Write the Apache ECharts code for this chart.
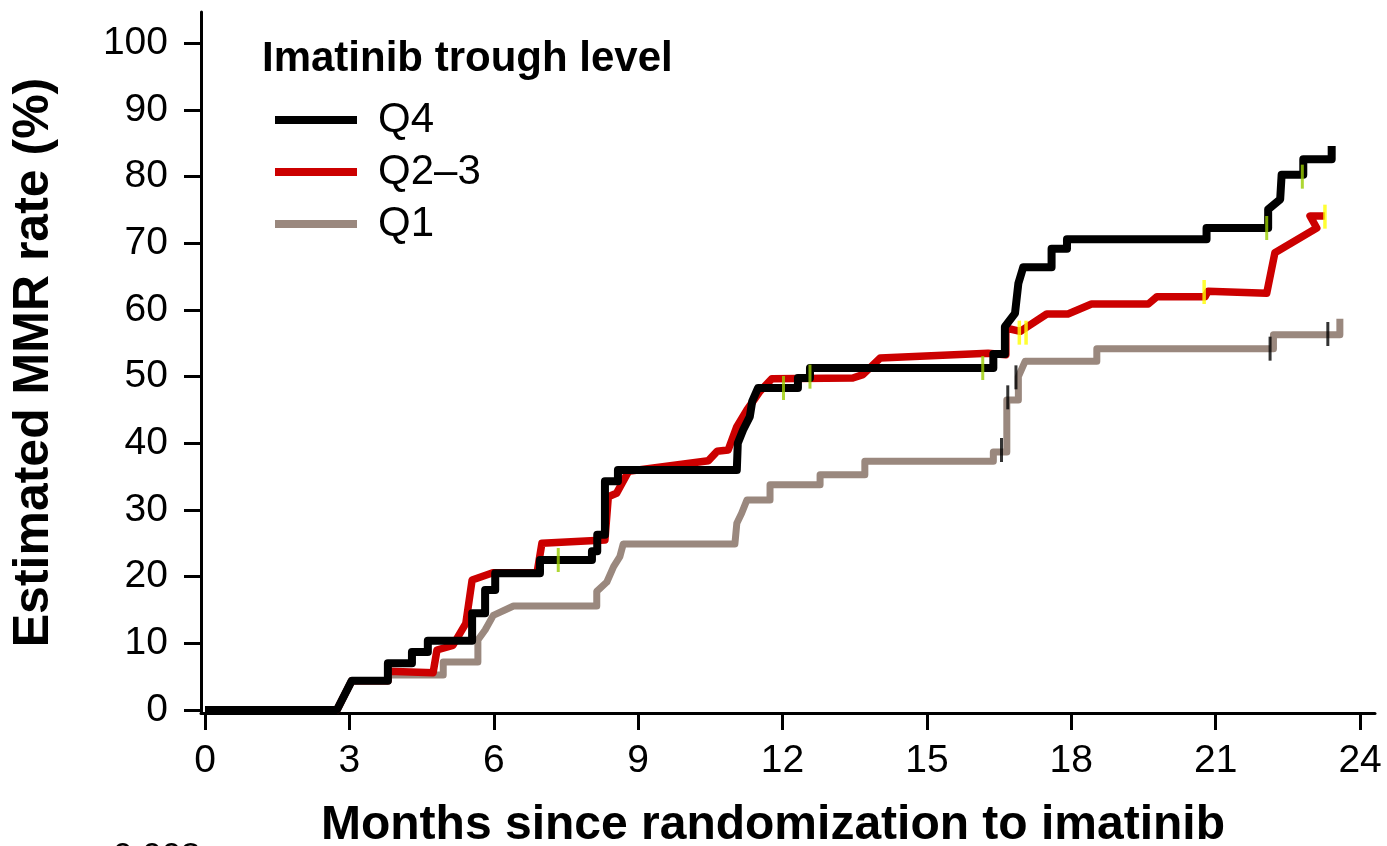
<!DOCTYPE html>
<html>
<head>
<meta charset="utf-8">
<title>Estimated MMR rate by imatinib trough level</title>
<script src="https://cdn.jsdelivr.net/npm/echarts@6/dist/echarts.min.js"></script>
<style>
  html, body { margin: 0; padding: 0; background: #fff; }
  #chart { width: 1387px; height: 846px; }
</style>
</head>
<body>
<div id="chart"></div>
<script>
// tick labels
const xTicks = [0, 3, 6, 9, 12, 15, 18, 21, 24]
const yTicks = [0, 10, 20, 30, 40, 50, 60, 70, 80, 90, 100]

const groupNames = ['Q4', 'Q2–3', 'Q1']

// Q4 curve: [month, MMR %]
const q4Curve = [
  [0, 0], [2.74, 0], [3.05, 4.4], [3.8, 4.4], [3.8, 7.0], [4.3, 7.0], [4.3, 8.7],
  [4.63, 8.7], [4.63, 10.4], [5.55, 10.4], [5.55, 14.5], [5.82, 14.5], [5.82, 18.0],
  [6.03, 18.0], [6.03, 20.5], [6.96, 20.5], [6.96, 22.5], [8.04, 22.5], [8.04, 23.8],
  [8.15, 23.8], [8.15, 26.3], [8.31, 26.3], [8.31, 34.3], [8.58, 34.3], [8.58, 36.0],
  [11.05, 36.0], [11.07, 40.0], [11.18, 42.0], [11.32, 44.0], [11.37, 46.3], [11.49, 48.3],
  [12.32, 48.3], [12.32, 49.8], [12.57, 49.8], [12.57, 51.3], [16.38, 51.3], [16.38, 53.4],
  [16.62, 53.4], [16.62, 57.5], [16.83, 59.5], [16.9, 64.0], [17.0, 66.4], [17.59, 66.4],
  [17.59, 69.2], [17.91, 69.2], [17.91, 70.6], [20.81, 70.6], [20.81, 72.3], [22.09, 72.3],
  [22.09, 75.1], [22.34, 76.6], [22.37, 80.3], [22.82, 80.3], [22.82, 82.6], [23.41, 82.6],
  [23.41, 84.6]
]

// Q2-3 curve
const q23Curve = [
  [0, 0], [2.74, 0], [3.05, 4.4], [3.8, 4.4], [3.8, 5.8], [4.74, 5.6], [4.82, 9.0],
  [5.15, 9.7], [5.42, 13.0], [5.55, 19.5], [5.98, 20.6], [6.9, 20.6], [7.0, 25.0],
  [8.31, 25.5], [8.38, 32.0], [8.55, 32.5], [8.8, 35.8], [10.46, 37.4], [10.64, 38.8],
  [10.87, 39.0], [11.05, 42.5], [11.26, 45.0], [11.53, 47.8], [11.78, 49.7], [13.46, 49.8],
  [13.67, 50.3], [14.03, 52.8], [16.27, 53.5], [16.64, 53.3], [16.64, 57.3], [16.94, 56.8],
  [17.49, 59.4], [17.93, 59.4], [18.42, 60.9], [19.6, 60.9], [19.78, 62.0], [20.78, 62.0],
  [20.84, 62.8], [22.06, 62.5], [22.23, 68.6], [23.1, 72.3], [22.96, 74.1], [23.27, 74.1]
]

// Q1 curve
const q1Curve = [
  [0, 0], [2.74, 0], [3.05, 4.4], [3.8, 4.4], [3.8, 5.25], [4.95, 5.25], [4.95, 7.2],
  [5.67, 7.2], [5.67, 10.5], [5.82, 12.0], [5.99, 14.2], [6.41, 15.6], [8.14, 15.6],
  [8.14, 17.8], [8.35, 19.2], [8.49, 21.5], [8.62, 23.0], [8.69, 24.9], [11.01, 24.9],
  [11.05, 28.0], [11.15, 29.5], [11.26, 31.5], [11.74, 31.5], [11.74, 33.8], [12.78, 33.8],
  [12.78, 35.3], [13.71, 35.3], [13.71, 37.3], [16.38, 37.3], [16.38, 38.7], [16.66, 38.7],
  [16.66, 46.5], [16.9, 46.5], [16.9, 50.0], [17.04, 52.3], [18.53, 52.3], [18.53, 54.2],
  [22.2, 54.2], [22.2, 56.3], [23.58, 56.3], [23.58, 58.7]
]

// censored observations
const q4Censor = [[7.34, 22.5], [12.02, 48.3], [12.57, 50.0], [16.16, 51.3], [22.06, 72.3], [22.8, 80.0]]
const q23Censor = [[16.92, 56.6], [17.06, 56.6], [20.76, 62.7], [23.27, 74.0]]
const q1Censor = [[16.55, 39.0], [16.68, 46.9], [16.85, 49.9], [22.13, 54.2], [23.33, 56.4]]

const pValue = '0.003'

const FONT = '"Liberation Sans", Arial, Helvetica, sans-serif'
const colors = { q4: '#000000', q23: '#cc0000', q1: '#9a887e' }

const chart = echarts.init(document.getElementById('chart'))

const curve = (name, data, color, width) => ({
  name,
  type: 'line',
  data,
  showSymbol: false,
  symbol: 'none',
  color,
  lineStyle: { color, width, join: 'round', cap: 'butt' },
  silent: true
})

const censor = (data, color, w) => ({
  type: 'scatter',
  data,
  symbol: 'rect',
  symbolSize: [w, 24],
  itemStyle: { color },
  z: 5,
  silent: true
})

chart.setOption({
  animation: false,
  backgroundColor: '#fff',
  textStyle: { fontFamily: FONT },
  grid: { left: 201, right: 12, top: 12, bottom: 133, outerBoundsMode: 'none', containLabel: false },
  title: {
    text: 'Imatinib trough level',
    left: 257,
    top: 33,
    textStyle: { fontFamily: FONT, fontSize: 42, fontWeight: 'bold', color: '#000' }
  },
  legend: {
    data: groupNames,
    orient: 'vertical',
    left: 270,
    top: 94,
    icon: 'rect',
    itemWidth: 82,
    itemHeight: 8,
    itemGap: 10,
    selectedMode: false,
    textStyle: { fontFamily: FONT, fontSize: 42, color: '#000', padding: [0, 0, 0, 16] }
  },
  xAxis: {
    type: 'value',
    min: -0.083,
    max: 24.31,
    name: 'Months since randomization to imatinib',
    nameLocation: 'middle',
    nameGap: 89,
    nameTextStyle: { fontFamily: FONT, fontSize: 48, fontWeight: 'bold', color: '#000', padding: [0, 30, 0, 0] },
    axisLine: { onZero: false, lineStyle: { color: '#000', width: 3 } },
    axisTick: { customValues: xTicks, length: 17, lineStyle: { color: '#000', width: 3 } },
    axisLabel: { customValues: xTicks, fontSize: 39, margin: 29, color: '#000', fontFamily: FONT },
    splitLine: { show: false }
  },
  yAxis: {
    type: 'value',
    min: -0.45,
    max: 104.7,
    name: 'Estimated MMR rate (%)',
    nameLocation: 'middle',
    nameGap: 142,
    nameTextStyle: { fontFamily: FONT, fontSize: 50, fontWeight: 'bold', color: '#000' },
    axisLine: { onZero: false, lineStyle: { color: '#000', width: 3 } },
    axisTick: { customValues: yTicks, length: 17, lineStyle: { color: '#000', width: 3 } },
    axisLabel: { customValues: yTicks, fontSize: 39, margin: 33, color: '#000', fontFamily: FONT },
    splitLine: { show: false }
  },
  graphic: [
    {
      type: 'text',
      left: 113,
      top: 840,
      style: { text: pValue, fontFamily: FONT, fontSize: 35, fill: '#000' }
    }
  ],
  series: [
    curve('Q1', q1Curve, colors.q1, 7),
    curve('Q2–3', q23Curve, colors.q23, 7.5),
    curve('Q4', q4Curve, colors.q4, 8),
    censor(q4Censor, '#9acd00', 3),
    censor(q23Censor, '#ffff00', 3.5),
    censor(q1Censor, '#000000', 3)
  ]
})
</script>
</body>
</html>
